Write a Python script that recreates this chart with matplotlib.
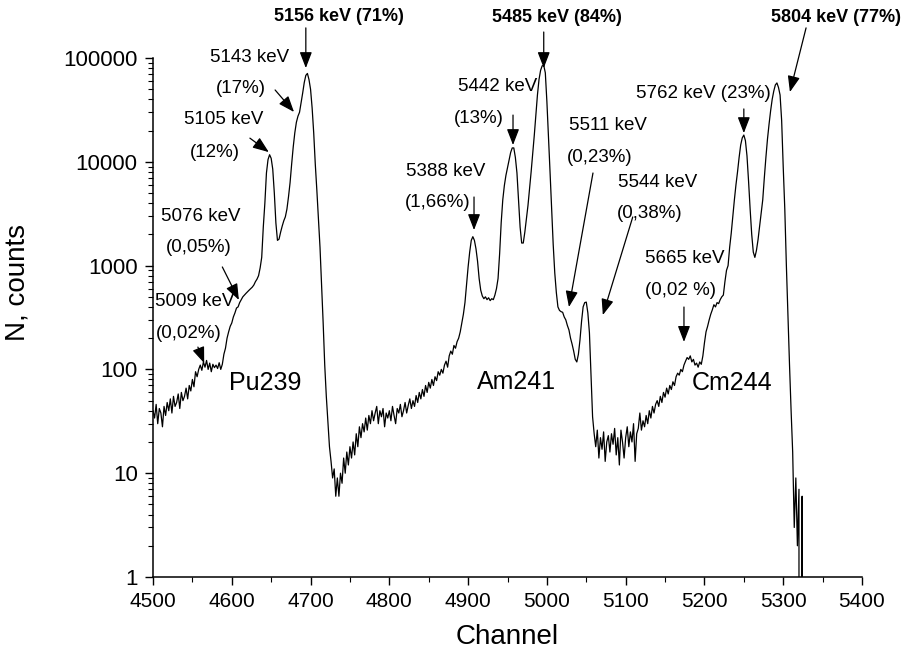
import numpy as np
import matplotlib
matplotlib.use('Agg')
import matplotlib.pyplot as plt
from matplotlib.ticker import LogLocator, FuncFormatter, NullFormatter, MultipleLocator

plt.rcParams['font.family'] = ['Liberation Sans', 'DejaVu Sans']

# Spectrum, one value every 2 channels starting at 4500
counts = [
    40, 34, 46, 30, 42, 38, 28, 44, 36, 48,                  # 4500
    40, 52, 38, 55, 44, 48, 58, 42, 60, 50,                  # 4520
    55, 66, 52, 70, 62, 80, 68, 95, 85, 100,                 # 4540
    110, 98, 118, 105, 122, 100, 115, 95, 112, 104,          # 4560
    110, 102, 116, 100, 112, 140, 160, 200, 230, 260,        # 4580
    280, 320, 350, 390, 400, 440, 470, 500, 520, 540,        # 4600
    560, 580, 600, 620, 650, 700, 740, 800, 950, 1200,       # 4620
    2350, 4000, 7800, 10500, 11700, 10800, 8500, 5000, 2570, 1750,   # 4640
    1800, 2100, 2400, 2700, 2950, 3500, 4600, 6300, 9500, 13900,     # 4660
    19000, 24000, 27500, 30000, 37000, 46000, 58000, 68000, 71000, 62000,  # 4680
    50000, 33000, 19000, 9500, 5300, 2800, 1500, 650, 280, 110,      # 4700
    55, 32, 18, 13, 9, 11, 6, 9, 6, 10,                      # 4720
    8, 14, 10, 16, 12, 18, 14, 20, 15, 24,                   # 4740
    18, 28, 22, 30, 25, 34, 26, 36, 30, 40,                  # 4760
    32, 38, 44, 30, 40, 35, 42, 28, 38, 34,                  # 4780
    40, 32, 44, 36, 30, 42, 38, 46, 35, 40,                  # 4800
    48, 38, 45, 52, 42, 50, 44, 56, 48, 60,                  # 4820
    52, 64, 55, 70, 60, 75, 66, 80, 70, 85,                  # 4840
    78, 95, 88, 100, 92, 110, 120, 105, 135, 150,            # 4860
    140, 170, 160, 185, 200, 230, 280, 340, 440, 650,        # 4880
    970, 1350, 1750, 1900, 1750, 1450, 1100, 750, 580, 510,  # 4900
    480, 500, 470, 490, 460, 480, 470, 520, 600, 750,        # 4920
    1300, 2600, 4300, 5900, 7400, 8800, 10500, 12300, 13600, 13600,  # 4940
    11000, 7800, 4200, 2350, 1650, 1650, 2100, 2800, 3800, 5500,     # 4960
    8000, 12000, 18000, 28000, 44000, 62000, 76000, 84000, 85000, 72000,  # 4980
    38000, 17000, 8000, 3650, 1600, 850, 550, 400, 370, 360,         # 5000
    355, 320, 300, 265, 240, 200, 175, 150, 125, 118,        # 5020
    140, 192, 290, 400, 440, 445, 350, 225, 90, 35,          # 5040
    24, 18, 26, 14, 22, 17, 25, 13, 20, 23,                  # 5060
    16, 24, 19, 27, 15, 22, 12, 26, 20, 14,                  # 5080
    22, 28, 18, 25, 20, 30, 13, 24, 27, 38,                  # 5100
    26, 32, 28, 36, 30, 40, 34, 44, 38, 46,                  # 5120
    50, 44, 55, 48, 60, 54, 66, 58, 70, 64,                  # 5140
    76, 70, 85, 92, 88, 100, 95, 110, 120, 130,              # 5160
    125, 135, 118, 125, 110, 115, 105, 118, 112, 135,        # 5180
    180, 230, 260, 300, 340, 375, 420, 400, 440, 430,        # 5200
    470, 500, 520, 700, 900, 1000, 1500, 2050, 3000, 4300,   # 5220
    6000, 8000, 11000, 14500, 17000, 18100, 16000, 11400, 6500, 3500,  # 5240
    2000, 1350, 1200, 1400, 1770, 2400, 3200, 4300, 7000, 11000,       # 5260
    16500, 23000, 31000, 40000, 48000, 55000, 57500, 52000, 44000, 25000,  # 5280
    8900, 3500, 1000, 330, 110, 40, 16, 3, 9, 2,             # 5300
    7, 0, 6, 0,                                              # 5320
]
channel = np.arange(4500, 4500 + 2 * len(counts), 2)

# peak labels: text, channel, counts, bold
labels = [
    ('5156 keV (71%)', 4736, 2.5e5, True),
    ('5485 keV (84%)', 5013, 2.48e5, True),
    ('5804 keV (77%)', 5367, 2.48e5, True),
    ('5143 keV', 4623, 1.02e5, False),
    ('(17%)', 4612, 5.1e4, False),
    ('5105 keV', 4590, 2.53e4, False),
    ('(12%)', 4579, 1.22e4, False),
    ('5076 keV', 4561, 2940, False),
    ('(0,05%)', 4558, 1480, False),
    ('5009 keV', 4553, 446, False),
    ('(0,02%)', 4546, 224, False),
    ('5442 keV', 4937, 5.37e4, False),
    ('(13%)', 4913, 2.64e4, False),
    ('5388 keV', 4871, 7980, False),
    ('(1,66%)', 4862, 4010, False),
    ('5511 keV', 5078, 2.26e4, False),
    ('(0,23%)', 5067, 1.09e4, False),
    ('5544 keV', 5140, 6250, False),
    ('(0,38%)', 5131, 3210, False),
    ('5665 keV', 5175, 1180, False),
    ('(0,02 %)', 5170, 582, False),
    ('5762 keV (23%)', 5199, 4.6e4, False),
]
isotopes = [('Pu239', 4643, 74), ('Am241', 4962, 75), ('Cm244', 5235, 74)]

# arrows: (tail channel, tail counts, tip channel, tip counts)
arrows = [
    (4694, 1.95e5, 4694, 8.0e4),
    (4655, 4.92e4, 4679, 3.02e4),
    (4623, 1.69e4, 4647, 1.24e4),
    (4588, 970, 4609, 467),
    (4557, 164, 4565, 115),
    (4996, 1.78e5, 4996, 8.0e4),
    (4957, 2.82e4, 4957, 1.45e4),
    (4907.5, 4580, 4907.5, 2200),
    (5058.5, 7800, 5028, 399),
    (5109, 2940, 5071, 334),
    (5174, 399, 5174, 184),
    (5250, 3.23e4, 5250, 1.89e4),
    (5329, 1.95e5, 5308.5, 4.7e4),
]

fig = plt.figure(figsize=(9.04, 6.57), dpi=100)
ax = fig.add_axes([153 / 904, 80 / 657, 709 / 904, 519 / 657])

ax.plot(channel, counts, color='black', lw=0.9)
ax.set_yscale('log', nonpositive='clip')
ax.set_xlim(4500, 5400)
ax.set_ylim(1, 1e5)

ax.xaxis.set_major_locator(MultipleLocator(100))
ax.xaxis.set_minor_locator(MultipleLocator(50))
ax.yaxis.set_major_locator(LogLocator(base=10, numticks=10))
ax.yaxis.set_minor_locator(LogLocator(base=10, subs=np.arange(2, 10), numticks=20))
ax.yaxis.set_major_formatter(FuncFormatter(lambda v, p: f'{v:.0f}'))
ax.yaxis.set_minor_formatter(NullFormatter())

for s in ['top', 'right']:
    ax.spines[s].set_visible(False)
for s in ['left', 'bottom']:
    ax.spines[s].set_linewidth(1.1)
ax.tick_params(which='major', direction='out', length=6, width=1.0, labelsize=15, pad=5)
ax.tick_params(axis='y', which='major', labelsize=16)
ax.tick_params(which='minor', direction='out', length=3.5, width=0.8)

for txt, x, y, bold in labels:
    ax.text(x, y, txt, ha='center', va='center', fontsize=13 if bold else 13.5,
            fontweight='bold' if bold else 'normal')
for txt, x, y in isotopes:
    ax.text(x, y, txt, ha='center', va='center', fontsize=18)

for x0, y0, x1, y1 in arrows:
    ax.annotate('', xy=(x1, y1), xytext=(x0, y0), annotation_clip=False,
                arrowprops=dict(arrowstyle='-|>,head_length=0.65,head_width=0.25',
                                color='black', lw=0.9, mutation_scale=15,
                                shrinkA=0, shrinkB=0))

fig.text(507 / 904, 1 - 637 / 657, 'Channel', ha='center', va='center', fontsize=20)
fig.text(18 / 904, 1 - 283 / 657, 'N, counts', ha='center', va='center',
         fontsize=20, rotation=90)

plt.savefig('out.png', dpi=100)
plt.close()
